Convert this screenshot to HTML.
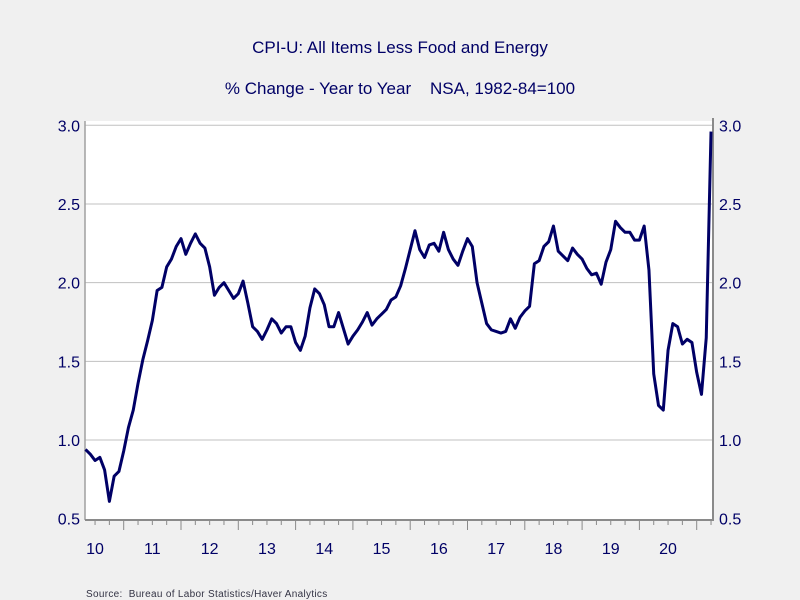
<!DOCTYPE html>
<html><head><meta charset="utf-8">
<style>
html,body{margin:0;padding:0;background:#f0f0f0;}
svg{display:block;font-family:"Liberation Sans",Arial,sans-serif;}
</style></head>
<body>
<svg id="chart" width="800" height="600" viewBox="0 0 800 600">
<rect x="0" y="0" width="800" height="600" fill="#f0f0f0"/>
<text x="400" y="53" text-anchor="middle" font-size="17" fill="#000066">CPI-U: All Items Less Food and Energy</text>
<text x="400" y="94" text-anchor="middle" font-size="17" fill="#000066">% Change - Year to Year &#160;&#160;&#160;NSA, 1982-84=100</text>
<rect x="85" y="121" width="628" height="399" fill="#ffffff"/>
<g id="grid"></g>
<g id="axes"></g>
<g id="series"></g>
<text x="86" y="597" font-size="10" letter-spacing="0.3" fill="#333344">Source: &#160;Bureau of Labor Statistics/Haver Analytics</text>
</svg>
<script>
// Monthly values, May 2010 .. Apr 2021
const values = [0.94,0.91,0.87,0.89,0.81,0.61,0.77,0.80,0.93,1.08,1.19,1.36,1.51,1.63,1.76,1.95,1.97,2.10,2.15,2.23,2.28,2.18,2.25,2.31,2.25,2.22,2.10,1.92,1.97,2.00,1.95,1.90,1.93,2.01,1.87,1.72,1.69,1.64,1.70,1.77,1.74,1.68,1.72,1.72,1.62,1.57,1.66,1.84,1.96,1.93,1.86,1.72,1.72,1.81,1.71,1.61,1.66,1.70,1.75,1.81,1.73,1.77,1.80,1.83,1.89,1.91,1.98,2.09,2.21,2.33,2.21,2.16,2.24,2.25,2.20,2.32,2.21,2.15,2.11,2.20,2.28,2.23,2.00,1.87,1.74,1.70,1.69,1.68,1.69,1.77,1.71,1.78,1.82,1.85,2.12,2.14,2.23,2.26,2.36,2.20,2.17,2.14,2.22,2.18,2.15,2.09,2.05,2.06,1.99,2.13,2.21,2.39,2.35,2.32,2.32,2.27,2.27,2.36,2.08,1.42,1.22,1.19,1.57,1.74,1.72,1.61,1.64,1.62,1.43,1.29,1.65,2.96];
const startYear = 2010, startMonth = 5;
const yTicks = [0.5,1.0,1.5,2.0,2.5,3.0];
const yearLabels = ["10","11","12","13","14","15","16","17","18","19","20"];

const NS = "http://www.w3.org/2000/svg";
const L = 85, R = 713, B = 520;
const yTop = 125.3, yBot = 518.7;
function yScale(v){ return yBot - (v - 0.5) / 2.5 * (yBot - yTop); }
const monthW = 4.775, jan2011 = 123.7;
function xMonth(m){ return jan2011 + (m - 24132) * monthW; }
function mk(tag, attrs, parent){ const e = document.createElementNS(NS, tag); for (const k in attrs) e.setAttribute(k, attrs[k]); parent.appendChild(e); return e; }

const grid = document.getElementById('grid');
const axes = document.getElementById('axes');
const series = document.getElementById('series');

yTicks.forEach(t => {
  const y = yScale(t);
  if (t > 0.5) {
    const g = mk('line', {x1:L, x2:R, y1:y, y2:y, stroke:'#c0c0c0', 'stroke-width':1}, grid);
    
    
  }
  const a = mk('text', {x:80, y:y+6, 'text-anchor':'end', 'font-size':16, fill:'#000066'}, axes);
  a.textContent = t.toFixed(1);
  
  
  const b = mk('text', {x:719, y:y+6, 'font-size':16, fill:'#000066'}, axes);
  b.textContent = t.toFixed(1);
  
  
});

const ls = mk('line', {x1:L, x2:L, y1:121, y2:B, stroke:'#a0a0a0', 'stroke-width':1.5}, axes);


const rs = mk('line', {x1:R, x2:R, y1:118, y2:B, stroke:'#8a8a8a', 'stroke-width':2}, axes);


const bs = mk('line', {x1:L, x2:R+1, y1:B, y2:B, stroke:'#8a8a8a', 'stroke-width':2}, axes);



for (let m = 2010*12; m <= 2021*12 + 6; m += 3) {
  const x = xMonth(m);
  if (x < L + 2 || x > R - 1) continue;
  const major = (m % 12) === 0;
  const t = mk('line', {x1:x, x2:x, y1:B, y2:B + (major ? 10 : 5), stroke:'#8a8a8a', 'stroke-width':1}, axes);
  
  
}
yearLabels.forEach((lab, k) => {
  let x = xMonth((startYear + k) * 12 + 6);
  if (x < L + 12) x = 95;
  const t = mk('text', {x:x, y:554, 'text-anchor':'middle', 'font-size':16, fill:'#000066'}, axes);
  t.textContent = lab;
  
  
});

const m0 = startYear * 12 + (startMonth - 1);
const pts = values.map((v, i) => xMonth(m0 + i).toFixed(2) + ',' + yScale(v).toFixed(2)).join(' ');
const line = mk('polyline', {points:pts, fill:'none', stroke:'#000066', 'stroke-width':3, 'stroke-linejoin':'round'}, series);


</script>
</body></html>
